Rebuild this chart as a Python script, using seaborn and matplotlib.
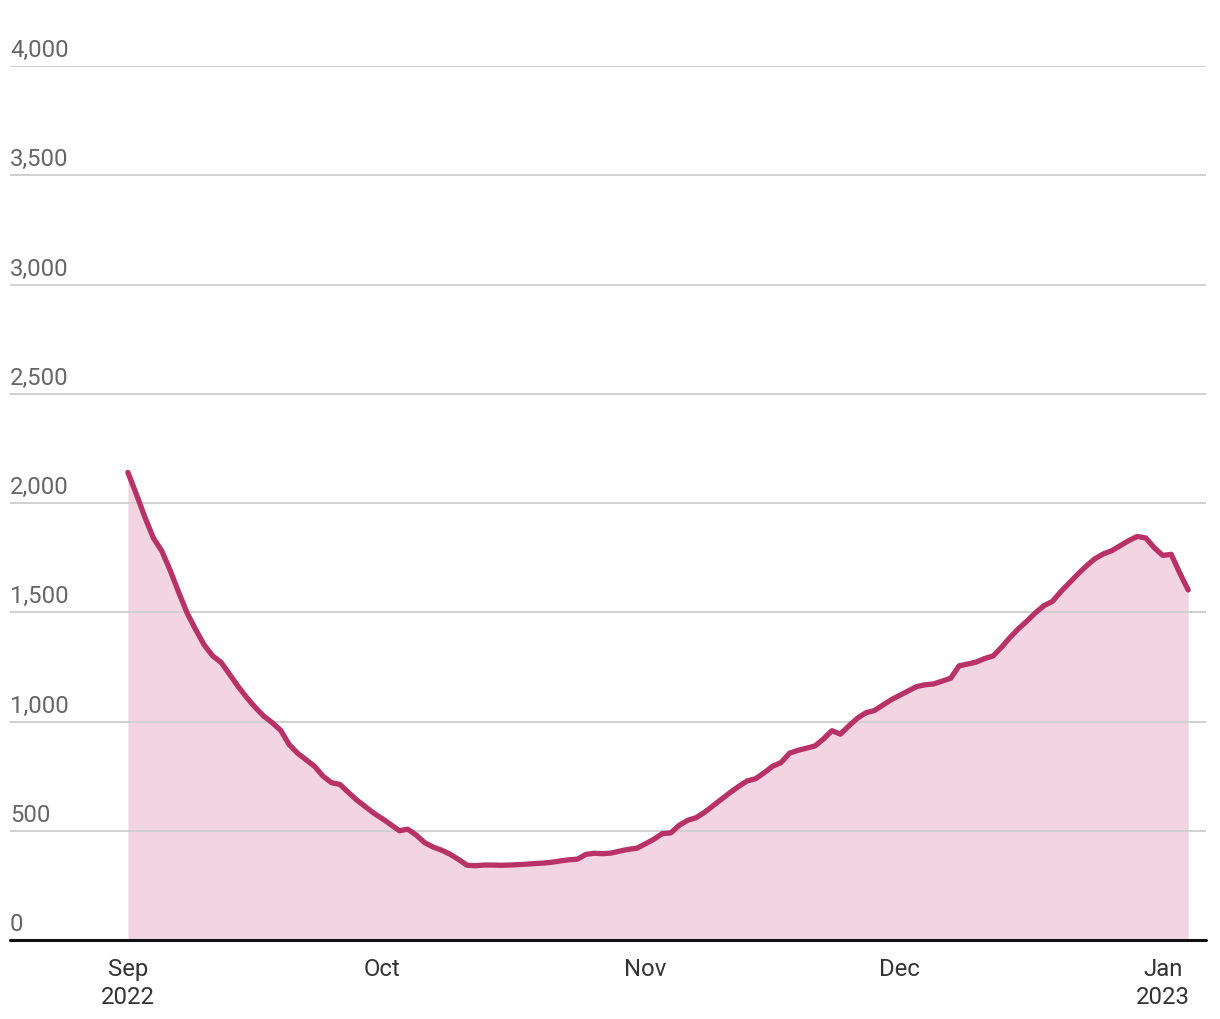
import numpy as np
import pandas as pd
import matplotlib
matplotlib.use("Agg")
import matplotlib.pyplot as plt
import matplotlib.dates as mdates
import matplotlib.transforms as mtransforms
import seaborn as sns

# ---- data (daily values, Sep 1 2022 .. Jan 4 2023) ----
start_date = "2022-09-01"
values = [
    2140, 2040, 1935, 1840, 1780, 1690, 1590, 1495, 1420, 1350,
    1300, 1270, 1215, 1160, 1110, 1065, 1025, 995, 960, 895,
    855, 825, 795, 750, 720, 712, 675, 640, 610, 580,
    555, 528, 500, 507, 480, 445, 425, 411, 392, 368,
    342, 340, 343, 343, 342, 343, 345, 347, 350, 352,
    356, 362, 367, 370, 392, 397, 395, 398, 407, 415,
    420, 440, 461, 487, 490, 525, 548, 560, 585, 615,
    645, 675, 703, 728, 738, 765, 795, 812, 855, 868,
    878, 888, 920, 958, 942, 980, 1015, 1040, 1050, 1075,
    1100, 1120, 1140, 1160, 1168, 1172, 1185, 1198, 1255, 1263,
    1272, 1288, 1300, 1340, 1385, 1425, 1460, 1498, 1530, 1550,
    1595, 1635, 1675, 1712, 1745, 1767, 1782, 1805, 1828, 1847,
    1840, 1795, 1760, 1765, 1680, 1602,
]
dates = pd.date_range(start_date, periods=len(values), freq="D")
y_ticks = [0, 500, 1000, 1500, 2000, 2500, 3000, 3500, 4000]
y_tick_labels = ["0", "500", "1,000", "1,500", "2,000", "2,500", "3,000", "3,500", "4,000"]
x_tick_dates = ["2022-09-01", "2022-10-01", "2022-11-01", "2022-12-01", "2023-01-01"]
x_tick_labels = ["Sep\n2022", "Oct", "Nov", "Dec", "Jan\n2023"]

df = pd.DataFrame({"date": dates, "value": values})

LINE = "#b83268"
FILL = "#f2d5e1"

sns.set_theme(style="white")
plt.rcParams["font.family"] = ["Roboto", "DejaVu Sans"]

fig = plt.figure(figsize=(12.2, 10.2), dpi=100)
ax = fig.add_axes([10 / 1220, 79 / 1020, 1196 / 1220, 874 / 1020])

ax.fill_between(df["date"], 0, df["value"], color=FILL, linewidth=0, zorder=1)
sns.lineplot(data=df, x="date", y="value", ax=ax, color=LINE, linewidth=3.8,
             zorder=3, solid_capstyle="round", solid_joinstyle="round")

x0 = pd.Timestamp("2022-09-01")
ax.set_xlim(x0 - pd.Timedelta(days=13.9), x0 + pd.Timedelta(days=127.1))
ax.set_ylim(0, 4000)

# grid
for v in y_ticks[1:]:
    ax.axhline(v, color="#d0d0d0", linewidth=1.4, zorder=2)
ax.axhline(0, color="#111111", linewidth=2.2, zorder=5, clip_on=False)

ax.set_yticks([])
trans = mtransforms.blended_transform_factory(ax.transAxes, ax.transData)
for v, lab in zip(y_ticks, y_tick_labels):
    ax.text(0.0, v + 22, lab, transform=trans, ha="left", va="bottom",
            fontsize=17.2, color="#666666",
            fontfamily=["Roboto", "DejaVu Sans"])

ax.set_xticks(pd.to_datetime(x_tick_dates))
ax.set_xticklabels(x_tick_labels, fontsize=17.2, color="#333333", linespacing=1.3)
ax.tick_params(axis="x", length=0, pad=12)

for s in ax.spines.values():
    s.set_visible(False)
ax.set_xlabel("")
ax.set_ylabel("")

fig.savefig("out.png", dpi=100)
